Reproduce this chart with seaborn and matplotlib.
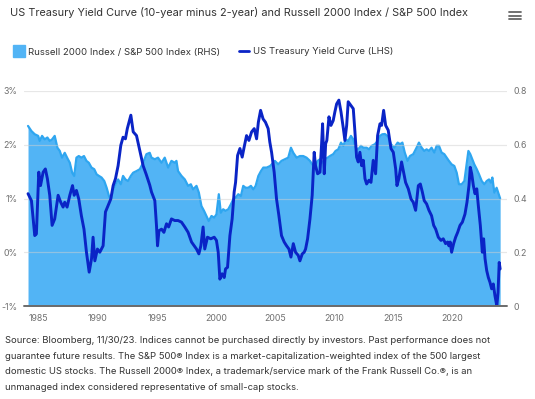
import matplotlib
matplotlib.use("Agg")
import matplotlib.pyplot as plt
from matplotlib.lines import Line2D
import numpy as np
import pandas as pd
import seaborn as sns

# US Treasury yield curve, 10y minus 2y (%, left axis)
yc_year = [1984.09, 1984.38, 1984.66, 1984.80, 1985.00, 1985.15, 1985.37, 1985.56, 1985.73, 1985.93,
           1986.13, 1986.35, 1986.64, 1986.86, 1987.06, 1987.20, 1987.40, 1987.63, 1987.86, 1988.00,
           1988.19, 1988.39, 1988.61, 1988.83, 1989.04, 1989.27, 1989.47, 1989.60, 1989.75, 1989.97,
           1990.17, 1990.45, 1990.65, 1990.87, 1991.10, 1991.30, 1991.50, 1991.72, 1991.95, 1992.14,
           1992.34, 1992.50, 1992.80, 1993.00, 1993.28, 1993.56, 1993.84, 1994.10, 1994.40, 1994.55,
           1994.83, 1994.97, 1995.06, 1995.18, 1995.40, 1995.60, 1995.82, 1996.00, 1996.24, 1996.52,
           1996.80, 1997.09, 1997.37, 1997.65, 1997.94, 1998.16, 1998.36, 1998.56, 1998.73, 1998.92,
           1999.06, 1999.29, 1999.57, 1999.86, 2000.05, 2000.20, 2000.34, 2000.53, 2000.71, 2000.82,
           2000.99, 2001.19, 2001.38, 2001.55, 2001.67, 2001.84, 2002.04, 2002.23, 2002.40, 2002.60,
           2002.80, 2003.03, 2003.25, 2003.45, 2003.60, 2003.79, 2004.00, 2004.20, 2004.43, 2004.57,
           2004.72, 2004.94, 2005.14, 2005.34, 2005.56, 2005.79, 2005.99, 2006.19, 2006.36, 2006.56,
           2006.75, 2006.98, 2007.12, 2007.32, 2007.48, 2007.60, 2007.77, 2007.97, 2008.16, 2008.33,
           2008.44, 2008.62, 2008.82, 2008.95, 2009.04, 2009.18, 2009.30, 2009.40, 2009.58, 2009.75,
           2009.94, 2010.08, 2010.23, 2010.42, 2010.60, 2010.80, 2010.93, 2011.08, 2011.21, 2011.44,
           2011.64, 2011.78, 2011.92, 2012.06, 2012.20, 2012.35, 2012.49, 2012.63, 2012.77, 2012.97,
           2013.14, 2013.33, 2013.53, 2013.70, 2013.90, 2014.04, 2014.21, 2014.38, 2014.60, 2014.83,
           2015.03, 2015.23, 2015.34, 2015.50, 2015.73, 2015.87, 2016.07, 2016.30, 2016.53, 2016.72,
           2016.92, 2017.15, 2017.32, 2017.49, 2017.65, 2017.85, 2018.05, 2018.27, 2018.45, 2018.62,
           2018.84, 2019.07, 2019.26, 2019.46, 2019.63, 2019.74, 2019.85, 2019.97, 2020.14, 2020.31,
           2020.48, 2020.68, 2020.88, 2021.10, 2021.27, 2021.44, 2021.55, 2021.67, 2021.81, 2021.95,
           2022.10, 2022.23, 2022.40, 2022.57, 2022.68, 2022.80, 2022.94, 2023.08, 2023.22, 2023.36,
           2023.50, 2023.64, 2023.80, 2023.90, 2024.00, 2024.08]
yc_value = [1.09, 0.96, 0.31, 0.34, 1.49, 1.24, 1.49, 1.55, 1.37, 1.06,
            0.50, 0.62, 1.06, 0.93, 0.84, 0.93, 0.84, 1.06, 1.24, 1.06,
            1.15, 0.99, 0.68, 0.43, 0.00, -0.37, -0.12, 0.28, -0.16, 0.06,
            0.00, 0.12, 0.75, 0.87, 0.99, 1.24, 1.37, 1.61, 1.99, 2.14,
            2.11, 2.30, 2.55, 2.24, 2.17, 1.89, 1.61, 1.45, 1.25, 1.12,
            0.96, 0.50, 0.12, 0.40, 0.43, 0.37, 0.53, 0.47, 0.62, 0.59,
            0.59, 0.56, 0.47, 0.37, 0.19, 0.12, 0.06, -0.03, 0.12, 0.47,
            0.06, 0.28, 0.25, 0.28, 0.22, 0.00, -0.50, -0.40, -0.47, -0.31,
            -0.28, 0.31, 0.62, 1.12, 1.30, 1.80, 1.93, 1.77, 1.96, 2.17,
            2.08, 2.24, 2.30, 2.11, 2.42, 2.64, 2.48, 2.42, 2.30, 2.05,
            1.86, 1.49, 0.99, 0.68, 0.31, 0.19, 0.12, 0.06, -0.09, 0.16,
            0.00, -0.06, -0.16, -0.03, 0.00, 0.06, 0.25, 0.62, 1.06, 1.86,
            1.61, 1.46, 1.49, 1.99, 2.39, 1.46, 2.02, 2.08, 2.52, 2.36,
            2.45, 2.61, 2.76, 2.83, 2.61, 2.30, 2.08, 2.36, 2.80, 2.73,
            2.67, 2.24, 1.77, 1.68, 1.86, 1.61, 1.71, 1.37, 1.27, 1.34,
            1.30, 1.71, 1.46, 2.17, 2.39, 2.36, 2.64, 2.36, 2.27, 1.93,
            1.86, 1.55, 1.24, 1.37, 1.68, 1.52, 1.30, 1.18, 0.99, 0.93,
            0.78, 1.24, 1.27, 1.12, 0.96, 0.90, 0.78, 0.68, 0.50, 0.43,
            0.28, 0.22, 0.25, 0.16, 0.19, 0.12, 0.19, 0.00, 0.16, 0.28,
            0.37, 0.50, 0.56, 0.71, 0.93, 1.24, 1.58, 1.46, 1.24, 1.09,
            1.18, 0.87, 0.50, 0.00, 0.25, -0.12, -0.34, -0.47, -0.56, -0.68,
            -0.59, -0.81, -1.00, -0.75, -0.19, -0.31]

# Russell 2000 / S&P 500 ratio (right axis)
rs_year = [1984.09, 1984.38, 1984.66, 1984.95, 1985.08, 1985.28, 1985.50, 1985.73, 1985.93, 1986.13,
           1986.35, 1986.58, 1986.78, 1986.97, 1987.20, 1987.40, 1987.63, 1987.83, 1988.00, 1988.19,
           1988.39, 1988.61, 1988.83, 1989.04, 1989.24, 1989.47, 1989.70, 1989.90, 1990.10, 1990.32,
           1990.55, 1990.75, 1990.95, 1991.10, 1991.30, 1991.50, 1991.72, 1991.95, 1992.14, 1992.34,
           1992.56, 1992.80, 1993.00, 1993.28, 1993.56, 1993.84, 1994.12, 1994.40, 1994.55, 1994.83,
           1995.10, 1995.40, 1995.67, 1995.96, 1996.24, 1996.52, 1996.66, 1996.80, 1997.09, 1997.37,
           1997.65, 1997.88, 1998.07, 1998.36, 1998.56, 1998.78, 1999.00, 1999.20, 1999.40, 1999.63,
           1999.86, 2000.05, 2000.25, 2000.42, 2000.62, 2000.82, 2001.05, 2001.27, 2001.47, 2001.67,
           2001.90, 2002.12, 2002.32, 2002.52, 2002.75, 2002.97, 2003.17, 2003.37, 2003.60, 2003.82,
           2004.02, 2004.30, 2004.60, 2005.00, 2005.28, 2005.56, 2005.85, 2006.13, 2006.36, 2006.56,
           2006.84, 2007.12, 2007.40, 2007.68, 2007.97, 2008.16, 2008.39, 2008.62, 2008.82, 2009.00,
           2009.24, 2009.47, 2009.66, 2009.94, 2010.14, 2010.37, 2010.60, 2010.80, 2011.00, 2011.21,
           2011.44, 2011.64, 2011.84, 2012.06, 2012.29, 2012.49, 2012.77, 2012.97, 2013.20, 2013.47,
           2013.70, 2013.90, 2014.10, 2014.32, 2014.60, 2014.83, 2015.11, 2015.40, 2015.60, 2015.80,
           2016.00, 2016.24, 2016.44, 2016.72, 2017.00, 2017.20, 2017.43, 2017.65, 2017.85, 2018.05,
           2018.27, 2018.50, 2018.70, 2018.90, 2019.12, 2019.35, 2019.55, 2019.74, 2019.97, 2020.20,
           2020.40, 2020.59, 2020.82, 2021.05, 2021.22, 2021.39, 2021.55, 2021.72, 2021.89, 2022.10,
           2022.29, 2022.52, 2022.74, 2022.94, 2023.14, 2023.30, 2023.42, 2023.59, 2023.78, 2024.08]
rs_value = [0.670, 0.651, 0.639, 0.633, 0.614, 0.633, 0.620, 0.627, 0.614, 0.620,
            0.633, 0.589, 0.577, 0.552, 0.570, 0.552, 0.533, 0.496, 0.484, 0.552,
            0.558, 0.552, 0.558, 0.540, 0.533, 0.515, 0.509, 0.490, 0.484, 0.478,
            0.465, 0.440, 0.409, 0.397, 0.434, 0.453, 0.471, 0.453, 0.484, 0.471,
            0.465, 0.484, 0.496, 0.502, 0.509, 0.533, 0.565, 0.570, 0.552, 0.546,
            0.552, 0.533, 0.552, 0.515, 0.540, 0.533, 0.540, 0.502, 0.484, 0.471,
            0.447, 0.453, 0.434, 0.447, 0.422, 0.372, 0.354, 0.335, 0.316, 0.335,
            0.329, 0.341, 0.416, 0.347, 0.360, 0.354, 0.360, 0.378, 0.397, 0.403,
            0.416, 0.409, 0.447, 0.440, 0.440, 0.447, 0.434, 0.447, 0.484, 0.502,
            0.515, 0.515, 0.521, 0.540, 0.527, 0.540, 0.546, 0.552, 0.589, 0.570,
            0.552, 0.558, 0.558, 0.552, 0.540, 0.527, 0.521, 0.540, 0.546, 0.533,
            0.546, 0.552, 0.558, 0.565, 0.577, 0.583, 0.608, 0.596, 0.620, 0.614,
            0.633, 0.620, 0.589, 0.583, 0.596, 0.589, 0.589, 0.583, 0.596, 0.602,
            0.614, 0.633, 0.639, 0.640, 0.630, 0.602, 0.589, 0.608, 0.602, 0.608,
            0.571, 0.540, 0.558, 0.565, 0.589, 0.608, 0.589, 0.577, 0.583, 0.577,
            0.589, 0.571, 0.596, 0.596, 0.571, 0.565, 0.552, 0.540, 0.527, 0.521,
            0.496, 0.453, 0.453, 0.465, 0.521, 0.577, 0.565, 0.546, 0.527, 0.509,
            0.490, 0.465, 0.453, 0.465, 0.471, 0.459, 0.478, 0.422, 0.440, 0.400]

left_ticks = [-1, 0, 1, 2, 3]
left_labels = ["-1%", "0%", "1%", "2%", "3%"]
right_ticks = [0, 0.2, 0.4, 0.6, 0.8]
right_labels = ["0", "0.2", "0.4", "0.6", "0.8"]
year_ticks = [1985, 1990, 1995, 2000, 2005, 2010, 2015, 2020]

title = "US Treasury Yield Curve (10-year minus 2-year) and Russell 2000 Index / S&P 500 Index"
rs_label = "Russell 2000 Index / S&P 500 Index (RHS)"
yc_label = "US Treasury Yield Curve (LHS)"
caption = ("Source: Bloomberg, 11/30/23. Indices cannot be purchased directly by investors. Past performance does not\n"
           "guarantee future results. The S&P 500\u00ae Index is a market-capitalization-weighted index of the 500 largest\n"
           "domestic US stocks. The Russell 2000\u00ae Index, a trademark/service mark of the Frank Russell Co.\u00ae, is an\n"
           "unmanaged index considered representative of small-cap stocks.")

sns.set_theme(style="white")
plt.rcParams["font.family"] = ["Inter", "DejaVu Sans"]

AREA = "#52b4f5"
AREA_EDGE = "#2fa6f0"
LINE = "#0a24c6"
TICK = "#707070"

rs = pd.DataFrame({"year": rs_year, "ratio": rs_value})
yc = pd.DataFrame({"year": yc_year, "spread": yc_value})

fig = plt.figure(figsize=(5.35, 3.99), dpi=100)
ax = fig.add_axes([24 / 535, 1 - 306 / 399, 483 / 535, 215 / 399])

# area series on the base axes (right scale)
ax.fill_between(rs["year"], 0, rs["ratio"], color=AREA, linewidth=0, zorder=1)
sns.lineplot(data=rs, x="year", y="ratio", ax=ax, color=AREA_EDGE, linewidth=1.6, zorder=2)

# yield curve on twin axes (left scale)
ax2 = ax.twinx()
for t in left_ticks[1:]:
    ax2.axhline(t, color="#d0d0d0", linewidth=0.9, alpha=0.5, zorder=1)
sns.lineplot(data=yc, x="year", y="spread", ax=ax2, color=LINE, linewidth=2.1, zorder=3)

ax.set_ylim(0, 0.8)
ax.set_yticks(right_ticks)
ax.set_yticklabels(right_labels)
ax.yaxis.tick_right()
ax.yaxis.set_label_position("right")

ax2.set_ylim(-1, 3)
ax2.set_yticks(left_ticks)
ax2.set_yticklabels(left_labels)
ax2.yaxis.tick_left()

for a in (ax, ax2):
    a.set_xlim(1983.75, 2024.66)
    a.set_xlabel("")
    a.set_ylabel("")
    a.grid(False)
    for s in a.spines.values():
        s.set_visible(False)
    a.tick_params(length=0, labelsize=6.3, labelcolor=TICK)
ax.set_xticks(year_ticks)
ax.set_xticklabels([str(y) for y in year_ticks])
ax.tick_params(axis="x", pad=6)
ax.tick_params(axis="y", pad=4.5)
ax2.tick_params(axis="y", pad=4.5)
ax2.axhline(-1, color="#6b6b6b", linewidth=1.4, zorder=4, clip_on=False)

fig.text(10 / 535, 1 - 13 / 399, title, fontsize=7.85, color="#333333", va="center", ha="left")

# menu icon
for yy in (12, 15.5, 19):
    fig.add_artist(Line2D([509 / 535, 521 / 535], [1 - yy / 399] * 2, color="#666666", linewidth=1.3))

handles = [Line2D([], [], marker="s", linestyle="none", markersize=8, color=AREA),
           Line2D([], [], color=LINE, linewidth=2)]
fig.legend(handles, [rs_label, yc_label], loc="center left", bbox_to_anchor=(6 / 535, 1 - 52 / 399),
           ncol=2, frameon=False, fontsize=6.9, handlelength=1.0, handletextpad=0.4,
           columnspacing=2.0, labelcolor="#333333")

fig.text(5 / 535, 1 - 336 / 399, caption, fontsize=6.8, color="#333333", va="top", ha="left",
         linespacing=1.95)

fig.savefig("out.png", dpi=100)
